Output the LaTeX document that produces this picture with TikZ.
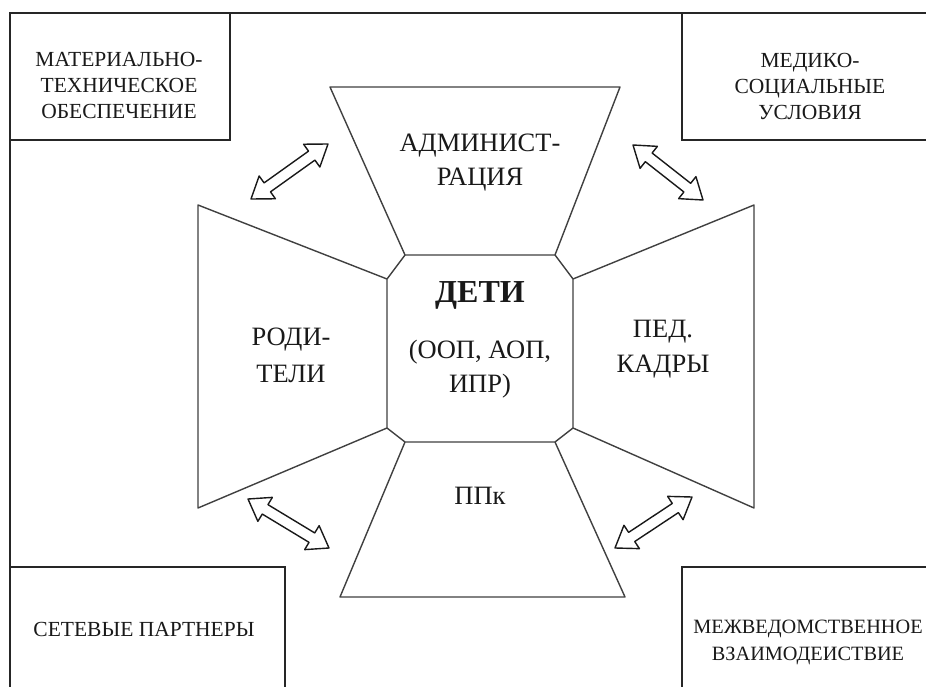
\documentclass[tikz,border=0pt]{standalone}
\usepackage{fontspec}
\setmainfont{Liberation Serif}
\usetikzlibrary{calc}
\tikzset{
  frameline/.style={draw=black!85, line width=1.5pt},
  shapeline/.style={draw=black!75, line width=1.4pt, line join=round},
  arrowline/.style={draw=black!90, line width=1.4pt, line join=round},
  smalltext/.style={anchor=base, align=center, inner sep=0pt, text=black!90, font=\fontsize{21.5}{26}\selectfont},
  bigtext/.style={anchor=base, align=center, inner sep=0pt, text=black!90, font=\fontsize{26.5}{35}\selectfont},
}
\newcommand{\dblarrow}[2]{%
  \draw[arrowline] (#1)
    -- ($(#1)!20pt!(#2)!14pt!90:(#2)$)
    -- ($(#1)!20pt!(#2)!5.5pt!90:(#2)$)
    -- ($(#2)!20pt!(#1)!5.5pt!-90:(#1)$)
    -- ($(#2)!20pt!(#1)!14pt!-90:(#1)$)
    -- (#2)
    -- ($(#2)!20pt!(#1)!14pt!90:(#1)$)
    -- ($(#2)!20pt!(#1)!5.5pt!90:(#1)$)
    -- ($(#1)!20pt!(#2)!5.5pt!-90:(#2)$)
    -- ($(#1)!20pt!(#2)!14pt!-90:(#2)$)
    -- cycle;}
\begin{document}
\begin{tikzpicture}[x=1pt,y=-1pt]
\useasboundingbox (0,0) rectangle (926,687);
\clip (0,0) rectangle (926,687);
\fill[white] (0,0) rectangle (926,687);
% frame and corner boxes
\draw[frameline] (10,690) -- (10,13) -- (930,13);
\draw[frameline] (10,13) rectangle (230,140);
\draw[frameline] (682,13) rectangle (940,140);
\draw[frameline] (10,567) rectangle (285,700);
\draw[frameline] (682,567) rectangle (940,700);
% octagon corners
\coordinate (o1) at (405,255);
\coordinate (o2) at (555,255);
\coordinate (o3) at (573,279);
\coordinate (o4) at (573,428);
\coordinate (o5) at (555,442);
\coordinate (o6) at (405,442);
\coordinate (o7) at (387,428);
\coordinate (o8) at (387,279);
% trapezoids
\draw[shapeline] (330,87) -- (620,87) -- (o2) -- (o1) -- cycle;
\draw[shapeline] (198,205) -- (o8) -- (o7) -- (198,508) -- cycle;
\draw[shapeline] (754,205) -- (o3) -- (o4) -- (754,508) -- cycle;
\draw[shapeline] (o6) -- (o5) -- (625,597) -- (340,597) -- cycle;
\draw[shapeline] (o1) -- (o8) (o2) -- (o3) (o4) -- (o5) (o7) -- (o6);
% arrows
\coordinate (a1) at (251,199); \coordinate (b1) at (328,144);
\coordinate (a2) at (633,145); \coordinate (b2) at (703,200);
\coordinate (a3) at (248,499); \coordinate (b3) at (329,548);
\coordinate (a4) at (615,548); \coordinate (b4) at (692,497);
\dblarrow{a1}{b1}
\dblarrow{a2}{b2}
\dblarrow{a3}{b3}
\dblarrow{a4}{b4}
% texts (base anchor = baseline of last line)
\node[smalltext] (mat) at (119,119) {МАТЕРИАЛЬНО-\\ТЕХНИЧЕСКОЕ\\ОБЕСПЕЧЕНИЕ};
\node[smalltext] (med) at (810,120) {МЕДИКО-\\СОЦИАЛЬНЫЕ\\УСЛОВИЯ};
\node[smalltext] (set) at (144,636) {СЕТЕВЫЕ ПАРТНЕРЫ};
\node[smalltext, font=\fontsize{20.3}{27}\selectfont] (mezh) at (808,660) {МЕЖВЕДОМСТВЕННОЕ\\ВЗАИМОДЕИСТВИЕ};
\node[bigtext, font=\fontsize{26.5}{34}\selectfont] (adm) at (480,186) {АДМИНИСТ-\\РАЦИЯ};
\node[bigtext, font=\fontsize{26.5}{37}\selectfont] (rod) at (291,382) {РОДИ-\\ТЕЛИ};
\node[bigtext] (ped) at (663,372) {ПЕД.\\КАДРЫ};
\node[bigtext, font=\bfseries\fontsize{32}{35}\selectfont] (deti) at (480,302) {ДЕТИ};
\node[bigtext, font=\fontsize{26.5}{34}\selectfont] (oop) at (480,392) {(ООП, АОП,\\ИПР)};
\node[bigtext] (ppk) at (480,504) {ППк};
\end{tikzpicture}
\end{document}
